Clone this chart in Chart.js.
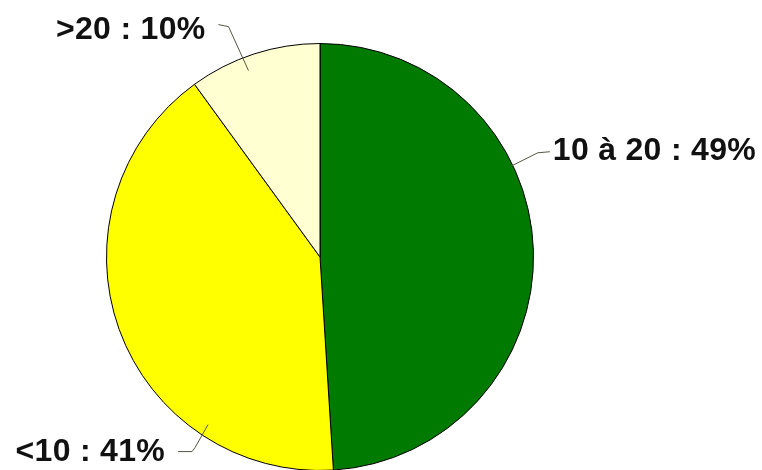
<!DOCTYPE html>
<html>
<head>
<meta charset="utf-8">
<script src="https://cdn.jsdelivr.net/npm/chart.js@4"></script>
<style>
  html, body { margin: 0; padding: 0; background: #fff; overflow: hidden; width: 762px; height: 470px; }
  #wrap { position: relative; width: 762px; height: 480px; }
</style>
</head>
<body>
<div id="wrap"><canvas id="c"></canvas></div>
<script>
const categories = ['10 à 20', '<10', '>20'];
const percentValues = [49, 41, 10];
const sliceColors = ['#007A00', '#FFFF00', '#FFFFD2'];

// leader line / label layout (fraction along arc, radius factor, offsets from the anchor point)
const labelLayout = [
  { f: 0.366, rf: 0.995, path: [[26, -13], [38, -14]], text: [41, -6], align: 'left' },
  { f: 0.253, rf: 0.944, path: [[-13, 23], [-16, 27], [-30, 27]], text: [-43, 36], align: 'right' },
  { f: 0.417, rf: 0.935, path: [[-20, -44], [-30, -46]], text: [-43, -32], align: 'right' }
];

const leaderPlugin = {
  id: 'leaders',
  afterDatasetsDraw(chart) {
    const ctx = chart.ctx;
    const meta = chart.getDatasetMeta(0);
    meta.data.forEach((arc, i) => {
      const L = labelLayout[i];
      const a = arc.startAngle + L.f * (arc.endAngle - arc.startAngle);
      const px = arc.x + Math.cos(a) * arc.outerRadius * L.rf;
      const py = arc.y + Math.sin(a) * arc.outerRadius * L.rf;
      ctx.save();
      ctx.strokeStyle = '#555544';
      ctx.lineWidth = 1;
      ctx.beginPath();
      ctx.moveTo(px, py);
      L.path.forEach(p => ctx.lineTo(px + p[0], py + p[1]));
      ctx.stroke();
      ctx.fillStyle = '#111';
      ctx.font = 'bold 32px "Liberation Sans", Arial, sans-serif';
      ctx.letterSpacing = '0.3px';
      ctx.textAlign = L.align;
      ctx.textBaseline = 'alphabetic';
      ctx.fillText(chart.data.labels[i] + ' : ' + chart.data.datasets[0].data[i] + '%', px + L.text[0], py + L.text[1]);
      ctx.restore();
    });
  }
};

new Chart(document.getElementById('c'), {
  type: 'pie',
  data: {
    labels: categories,
    datasets: [{
      data: percentValues,
      backgroundColor: sliceColors,
      borderColor: '#000',
      borderWidth: 1
    }]
  },
  options: {
    responsive: true,
    maintainAspectRatio: false,
    animation: false,
    layout: { padding: { left: 106, right: 228, top: 43, bottom: 9 } },
    plugins: { legend: { display: false }, tooltip: { enabled: false } }
  },
  plugins: [leaderPlugin]
});
</script>
</body>
</html>
